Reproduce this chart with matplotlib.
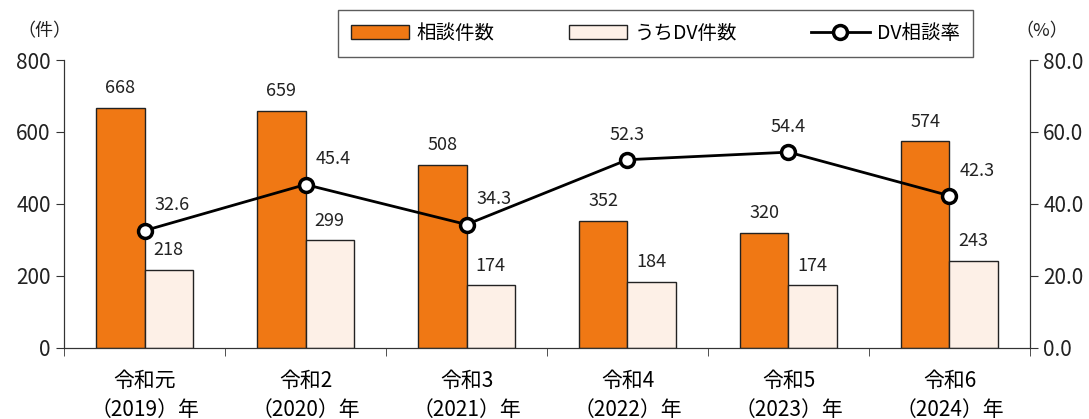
import matplotlib.pyplot as plt
import numpy as np

plt.rcParams['font.family'] = ['Noto Sans CJK JP', 'DejaVu Sans']

# データ
categories = ["令和元\n（2019）年", "令和2\n（2020）年", "令和3\n（2021）年",
              "令和4\n（2022）年", "令和5\n（2023）年", "令和6\n（2024）年"]
soudan = [668, 659, 508, 352, 320, 574]
dv = [218, 299, 174, 184, 174, 243]
dv_rate = [32.6, 45.4, 34.3, 52.3, 54.4, 42.3]
# 率ラベルの位置 (右上 or 真上)
rate_pos = ["ur", "ur", "ur", "up", "up", "ur"]

fig = plt.figure(figsize=(10.89, 4.19), dpi=100)
ax = fig.add_axes([0.0588, 0.1695, 0.887, 0.6873])
ax2 = ax.twinx()

x = np.arange(len(categories))
w = 0.3
ax.bar(x - w / 2, soudan, w, color="#F07814", edgecolor="#222222", linewidth=1, label="相談件数")
ax.bar(x + w / 2, dv, w, color="#FDF0E7", edgecolor="#222222", linewidth=1, label="うちDV件数")

for i in range(len(x)):
    ax.text(x[i] - w / 2, soudan[i] + 30, str(soudan[i]), ha="center", va="bottom", fontsize=13, color="#222222")
    ax.text(x[i] + w / 2, dv[i] + 30, str(dv[i]), ha="center", va="bottom", fontsize=13, color="#222222")

ax2.plot(x, dv_rate, color="black", linewidth=2, marker="o", markersize=10,
         markerfacecolor="white", markeredgecolor="black", markeredgewidth=2.5, label="DV相談率", zorder=5)
for i in range(len(x)):
    if rate_pos[i] == "up":
        ax2.text(x[i], dv_rate[i] + 4.5, f"{dv_rate[i]:.1f}", ha="center", va="bottom", fontsize=13, color="#222222")
    else:
        ax2.text(x[i] + 0.17, dv_rate[i] + 4.5, f"{dv_rate[i]:.1f}", ha="center", va="bottom", fontsize=13, color="#222222")

ax.set_xlim(-0.5, 5.5)
ax.set_ylim(0, 800)
ax.set_yticks([0, 200, 400, 600, 800])
ax2.set_ylim(0, 80)
ax2.set_yticks([0, 20, 40, 60, 80])
ax2.set_yticklabels([f"{v:.1f}" for v in [0, 20, 40, 60, 80]])

ax.set_xticks(x)
ax.set_xticklabels(categories, fontsize=15, linespacing=1.4)
ax.tick_params(axis="x", length=0, pad=16)
ax.set_xticks(np.arange(-0.5, 6, 1), minor=True)
ax.tick_params(axis="x", which="minor", length=6, direction="out", color="#333333")
ax.tick_params(axis="y", labelsize=15, length=6, color="#333333", labelcolor="#222222")
ax2.tick_params(axis="y", labelsize=15, length=6, color="#333333", labelcolor="#222222")

for a in (ax, ax2):
    a.spines["top"].set_visible(False)
    for s in ("left", "right", "bottom"):
        a.spines[s].set_color("#333333")

fig.text(0.041, 0.925, "（件）", ha="center", va="center", fontsize=13, color="#222222")
fig.text(0.957, 0.925, "（%）", ha="center", va="center", fontsize=13, color="#222222")

h1, l1 = ax.get_legend_handles_labels()
h2, l2 = ax2.get_legend_handles_labels()
leg = fig.legend(h1 + h2, l1 + l2, loc="center", bbox_to_anchor=(0.602, 0.92), ncol=3,
                 fontsize=14, frameon=True, fancybox=False, edgecolor="#333333",
                 handlelength=3.0, columnspacing=3.8, handletextpad=0.4, borderpad=0.65,
                 borderaxespad=0)
leg.get_frame().set_linewidth(1)

fig.savefig("out.png", dpi=100)
